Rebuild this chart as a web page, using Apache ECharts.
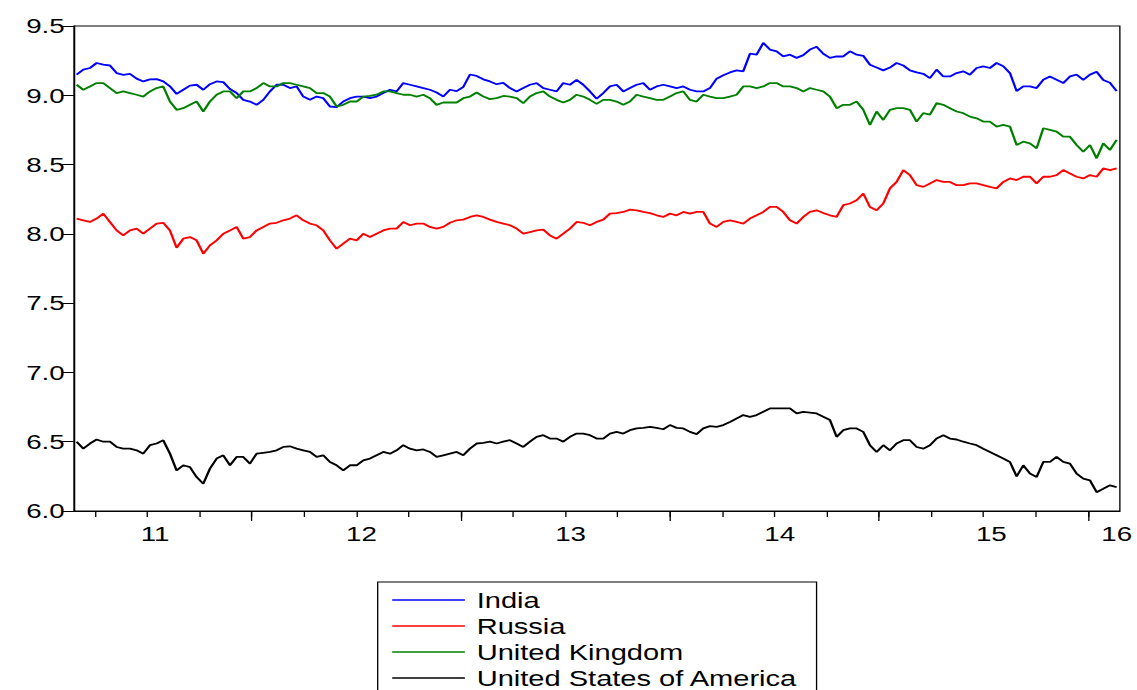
<!DOCTYPE html>
<html>
<head>
<meta charset="utf-8">
<title>Exchange rates</title>
<script src="https://cdn.jsdelivr.net/npm/echarts@6/dist/echarts.min.js"></script>
<style>
    html, body {
        margin: 0;
        padding: 0;
        background: #fff;
        overflow: hidden;
    }
    /* the original graph is stretched sideways, so draw narrow and scale */
    #chart {
        width: 861px;
        height: 690px;
        transform-origin: 0 0;
        transform: scaleX(1.3206);
    }
</style>
</head>
<body>
<div id="chart"></div>
<script>
// x is in quarters counted from Jan 2011 (0 = Jan 2011, 4 = Jan 2012 ...)
const T0 = -1.351;
const STEP = 0.12755;

const yearLabels = ["11", "12", "13", "14", "15", "16"];
const yearLabelAt = [0.15, 4.1, 8.1, 12.1, 16.15, 18.55];
const quarterTicks = [-1, 0, 1, 2, 3, 4, 5, 6, 7, 8, 9, 10, 11, 12, 13, 14, 15, 16, 17, 18];
const midYearTicks = [2, 6, 10, 14, 18];

const india = [
    9.149, 9.185, 9.197, 9.233, 9.221, 9.215, 9.16, 9.148, 9.155, 9.12,
    9.10, 9.115, 9.117, 9.10, 9.065, 9.01, 9.04, 9.07, 9.076, 9.04,
    9.08, 9.10, 9.095, 9.045, 9.016, 8.967, 8.955, 8.931, 8.967, 9.028,
    9.076, 9.076, 9.052, 9.064, 8.991, 8.967, 8.991, 8.979, 8.919, 8.914,
    8.955, 8.979, 8.991, 8.991, 8.979, 8.991, 9.016, 9.04, 9.028, 9.088,
    9.076, 9.064, 9.052, 9.04, 9.02, 8.991, 9.04, 9.03, 9.06, 9.15,
    9.14, 9.115, 9.10, 9.08, 9.09, 9.052, 9.028, 9.052, 9.076, 9.088,
    9.052, 9.04, 9.028, 9.088, 9.076, 9.112, 9.076, 9.028, 8.975, 9.016,
    9.064, 9.076, 9.028, 9.052, 9.076, 9.088, 9.04, 9.064, 9.076, 9.064,
    9.052, 9.064, 9.04, 9.028, 9.028, 9.052, 9.12, 9.145, 9.165, 9.18,
    9.173, 9.30, 9.293, 9.378, 9.33, 9.317, 9.281, 9.293, 9.27, 9.29,
    9.33, 9.35, 9.30, 9.27, 9.281, 9.28, 9.317, 9.293, 9.285, 9.22,
    9.20, 9.18, 9.20, 9.233, 9.215, 9.18, 9.165, 9.155, 9.124, 9.185,
    9.136, 9.136, 9.16, 9.173, 9.149, 9.197, 9.209, 9.197, 9.233, 9.209,
    9.16, 9.03, 9.064, 9.064, 9.052, 9.112, 9.136, 9.112, 9.088, 9.136,
    9.149, 9.112, 9.149, 9.17, 9.11, 9.09, 9.03,
];

const russia = [
    8.11, 8.098, 8.086, 8.11, 8.146, 8.086, 8.025, 7.989, 8.025, 8.038,
    8.001, 8.038, 8.074, 8.08, 8.025, 7.90, 7.965, 7.977, 7.953, 7.857,
    7.917, 7.953, 8.001, 8.025, 8.05, 7.965, 7.977, 8.025, 8.05, 8.074,
    8.08, 8.098, 8.11, 8.134, 8.098, 8.074, 8.062, 8.025, 7.953, 7.893,
    7.929, 7.965, 7.953, 8.001, 7.977, 8.001, 8.025, 8.038, 8.038, 8.086,
    8.062, 8.074, 8.074, 8.05, 8.038, 8.05, 8.08, 8.098, 8.103, 8.122,
    8.134, 8.122, 8.103, 8.086, 8.074, 8.062, 8.038, 8.001, 8.013, 8.025,
    8.03, 7.989, 7.965, 8.001, 8.038, 8.086, 8.08, 8.062, 8.086, 8.103,
    8.146, 8.15, 8.158, 8.175, 8.17, 8.158, 8.15, 8.134, 8.122, 8.146,
    8.134, 8.158, 8.146, 8.158, 8.158, 8.074, 8.05, 8.086, 8.098, 8.086,
    8.074, 8.11, 8.134, 8.158, 8.194, 8.194, 8.158, 8.098, 8.074, 8.122,
    8.158, 8.17, 8.15, 8.134, 8.122, 8.207, 8.219, 8.243, 8.291, 8.194,
    8.17, 8.219, 8.328, 8.375, 8.46, 8.424, 8.351, 8.339, 8.364, 8.388,
    8.375, 8.375, 8.351, 8.351, 8.364, 8.364, 8.351, 8.339, 8.328, 8.375,
    8.40, 8.388, 8.412, 8.412, 8.364, 8.412, 8.412, 8.424, 8.46, 8.436,
    8.412, 8.40, 8.424, 8.412, 8.472, 8.46, 8.472,
];

const uk = [
    9.076, 9.04, 9.064, 9.088, 9.088, 9.052, 9.016, 9.028, 9.016, 9.004,
    8.991, 9.028, 9.052, 9.064, 8.955, 8.895, 8.907, 8.931, 8.955, 8.883,
    8.955, 9.004, 9.028, 9.028, 8.979, 9.028, 9.028, 9.052, 9.088, 9.064,
    9.064, 9.088, 9.088, 9.076, 9.064, 9.052, 9.016, 9.016, 8.991, 8.919,
    8.931, 8.955, 8.955, 8.991, 8.995, 9.004, 9.028, 9.028, 9.016, 9.004,
    9.004,
    8.991, 9.004, 8.979, 8.931, 8.948, 8.948, 8.948, 8.979, 8.991, 9.02,
    8.991, 8.972, 8.979, 8.995, 8.991, 8.979, 8.943, 8.991, 9.016, 9.028,
    8.991, 8.967, 8.948, 8.967, 9.004, 8.991, 8.967, 8.938, 8.967, 8.967,
    8.955, 8.931, 8.955, 9.004, 8.991, 8.979, 8.967, 8.967, 8.991, 9.016,
    9.028, 8.967, 8.955, 9.004, 8.991, 8.979, 8.979, 8.991, 9.004, 9.064,
    9.064, 9.052, 9.064, 9.088, 9.088, 9.064, 9.064, 9.052, 9.028, 9.052,
    9.04, 9.028, 8.991, 8.907, 8.931, 8.931, 8.955, 8.895, 8.786, 8.883,
    8.822, 8.895, 8.907, 8.907, 8.895, 8.81, 8.871, 8.86, 8.943, 8.931,
    8.907, 8.883, 8.871, 8.846, 8.834, 8.81, 8.81, 8.774, 8.786, 8.774,
    8.641, 8.665, 8.653, 8.617, 8.762, 8.75, 8.738, 8.701, 8.701, 8.641,
    8.593, 8.641, 8.545, 8.653, 8.605, 8.678,
];

const usa = [
    6.50, 6.45, 6.487, 6.516, 6.50, 6.50, 6.462, 6.45, 6.45, 6.438,
    6.414, 6.475, 6.487, 6.51, 6.414, 6.293, 6.33, 6.317, 6.245, 6.197,
    6.306, 6.378, 6.402, 6.33, 6.39, 6.39, 6.342, 6.414, 6.42, 6.426,
    6.438, 6.462, 6.467, 6.45, 6.438, 6.426, 6.39, 6.402, 6.354, 6.33,
    6.293, 6.33, 6.33, 6.366, 6.378, 6.402, 6.426, 6.414, 6.438, 6.475,
    6.45, 6.438, 6.444, 6.426, 6.39, 6.402, 6.414, 6.426, 6.402, 6.45,
    6.487, 6.492, 6.50, 6.487, 6.50, 6.511, 6.487, 6.462, 6.50, 6.535,
    6.547, 6.523, 6.523, 6.50, 6.535, 6.559, 6.559, 6.547, 6.523,
    6.523, 6.559, 6.571, 6.559, 6.583, 6.596, 6.60, 6.607, 6.60, 6.59,
    6.62, 6.60, 6.596, 6.571, 6.555, 6.596, 6.612, 6.607, 6.62, 6.643,
    6.668, 6.692, 6.68, 6.692, 6.716, 6.74, 6.74, 6.74, 6.74, 6.704,
    6.716, 6.71, 6.704, 6.68, 6.656, 6.535, 6.583, 6.596, 6.596, 6.571,
    6.475, 6.426, 6.475, 6.438, 6.487, 6.511, 6.511, 6.462, 6.45, 6.475,
    6.523, 6.547, 6.523, 6.516, 6.50, 6.487, 6.475, 6.45, 6.426, 6.402,
    6.378, 6.354, 6.25, 6.33, 6.27, 6.245, 6.354, 6.354, 6.39, 6.354,
    6.342, 6.27, 6.233, 6.221, 6.136, 6.16, 6.185, 6.173,
];

const font = "'Liberation Sans', Arial, sans-serif";

function toPoints(values) {
    return values.map((v, k) => [T0 + k * STEP, v]);
}

function lineSeries(name, values, color) {
    return {
        name: name,
        type: "line",
        data: toPoints(values),
        symbol: "none",
        showSymbol: false,
        lineStyle: { color: color, width: 1.8 },
        itemStyle: { color: color },
        emphasis: { disabled: true },
    };
}

const myChart = echarts.init(document.getElementById("chart"), null, { renderer: "svg" });

const option = {
    animation: false,
    backgroundColor: "#fff",
    grid: {
        left: 56,
        right: 13,
        top: 26,
        bottom: 179,
        show: true,
        borderColor: "#000",
        borderWidth: 1,
        backgroundColor: "#fff",
    },
    legend: {
        orient: "vertical",
        left: 286,
        top: 582,
        height: 140,
        padding: [7, 14, 7, 11],
        icon: "rect",
        itemWidth: 55,
        itemHeight: 1.5,
        itemGap: 4,
        borderColor: "#000",
        borderWidth: 1,
        textStyle: { fontSize: 22, lineHeight: 22, color: "#000", fontFamily: font, padding: [0, 0, 0, 4] },
        data: ["India", "Russia", "United Kingdom", "United States of America"],
    },
    xAxis: [
        {
            type: "value",
            min: -1.402,
            max: 18.609,
            axisLine: { onZero: false, lineStyle: { color: "#000", width: 1 } },
            axisTick: { customValues: quarterTicks, length: 6, lineStyle: { color: "#000" } },
            axisLabel: {
                customValues: yearLabelAt,
                formatter: (v) => yearLabels[yearLabelAt.indexOf(v)],
                fontSize: 21,
                color: "#000",
                fontFamily: font,
                margin: 12,
            },
            splitLine: { show: false },
        },
        {
            type: "value",
            position: "bottom",
            min: -1.402,
            max: 18.609,
            axisLine: { show: false, onZero: false },
            axisTick: { customValues: midYearTicks, length: 10, lineStyle: { color: "#000" } },
            axisLabel: { show: false },
            splitLine: { show: false },
        },
    ],
    yAxis: {
        type: "value",
        min: 6,
        max: 9.5,
        interval: 0.5,
        axisLine: { show: true, onZero: false, lineStyle: { color: "#000", width: 1 } },
        axisTick: { show: true, length: 9, lineStyle: { color: "#000" } },
        axisLabel: {
            formatter: (v) => v.toFixed(1),
            fontSize: 21,
            color: "#000",
            fontFamily: font,
            margin: 7,
        },
        splitLine: { show: false },
    },
    series: [
        lineSeries("India", india, "#0000ff"),
        lineSeries("Russia", russia, "#ff0000"),
        lineSeries("United Kingdom", uk, "#008000"),
        lineSeries("United States of America", usa, "#000000"),
    ],
};
option && myChart.setOption(option);
</script>
</body>
</html>
